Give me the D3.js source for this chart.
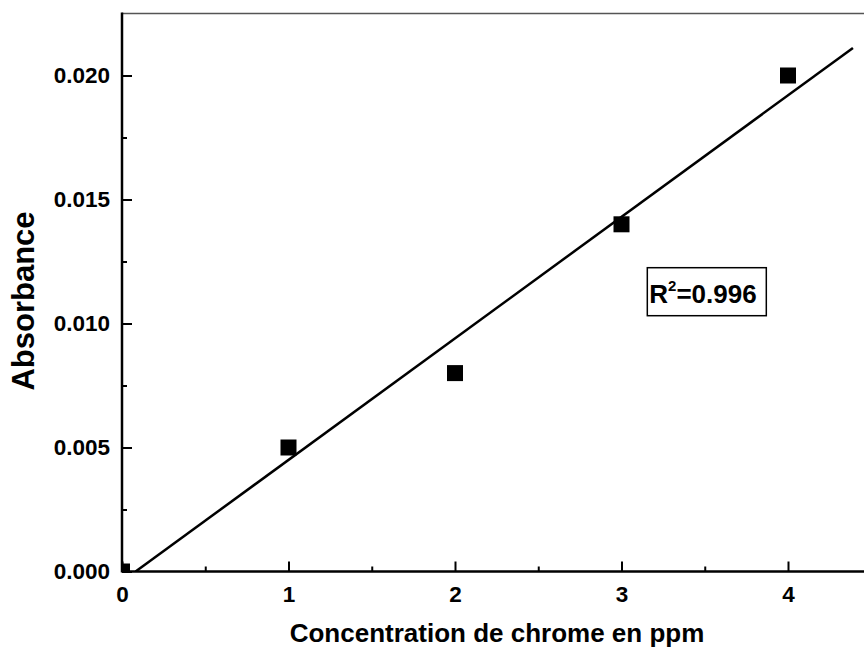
<!DOCTYPE html>
<html>
<head>
<meta charset="utf-8">
<script src="https://cdn.jsdelivr.net/npm/d3@7"></script>
<style>
  html, body { margin: 0; padding: 0; background: #fff; overflow: hidden; }
  svg text { font-family: "Liberation Sans", Arial, sans-serif; font-weight: bold; fill: #000; }
</style>
</head>
<body>
<svg id="chart" width="864" height="653"></svg>
<script>
"use strict";

// data
const concentrations = [0, 1, 2, 3, 4];
const absorbances = [0.000, 0.005, 0.008, 0.014, 0.020];
const xTicks = [0, 1, 2, 3, 4];
const xMinorTicks = [0.5, 1.5, 2.5, 3.5];
const yTicks = [0.000, 0.005, 0.010, 0.015, 0.020];
const yMinorTicks = [0.0025, 0.0075, 0.0125, 0.0175];
const fitSlope = 0.0049;
const fitIntercept = -0.0004;
const fitXEnd = 4.39;
const rSquaredText = "0.996";

let svg = d3.select('svg#chart');

let dim = { left: 122, bottom: 571.5, pxPerX: 166.5, pxPerY: 124 / 0.005 };
let xMax = 4.5, yMax = 0.0225;

let xScale = d3.scaleLinear().domain([0, xMax]).range([dim.left, dim.left + xMax * dim.pxPerX]);
let yScale = d3.scaleLinear().domain([0, yMax]).range([dim.bottom, dim.bottom - yMax * dim.pxPerY]);

let x0 = xScale(0), x1 = xScale(xMax), y0 = yScale(0), y1 = yScale(yMax);

svg.append('defs').append('clipPath').attr('id', 'plot-clip')
  .append('rect')
  .attr('x', x0).attr('y', y1)
  .attr('width', x1 - x0).attr('height', y0 - y1);

/* frame: top and right are thin grey */
svg.append('line')
  .attr('x1', x0).attr('x2', x1).attr('y1', y1).attr('y2', y1)
  .attr('stroke', '#555').attr('stroke-width', 1.5);
svg.append('line')
  .attr('x1', x1).attr('x2', x1).attr('y1', y1).attr('y2', y0)
  .attr('stroke', '#555').attr('stroke-width', 1.5);

/* axes, ticks pointing inward */
let xAxis = svg.append('g')
  .attr('transform', `translate(0, ${y0})`)
  .call(d3.axisBottom(xScale).tickValues(xTicks).tickSize(-10).tickSizeOuter(0)
    .tickPadding(15).tickFormat(d3.format('d')));
let xMinor = svg.append('g')
  .attr('transform', `translate(0, ${y0})`)
  .call(d3.axisBottom(xScale).tickValues(xMinorTicks).tickSize(-5).tickFormat(''));

let yAxis = svg.append('g')
  .attr('transform', `translate(${x0}, 0)`)
  .call(d3.axisLeft(yScale).tickValues(yTicks).tickSize(-10).tickSizeOuter(0)
    .tickPadding(12).tickFormat(d3.format('.3f')));
let yMinor = svg.append('g')
  .attr('transform', `translate(${x0}, 0)`)
  .call(d3.axisLeft(yScale).tickValues(yMinorTicks).tickSize(-5).tickFormat(''));

[xAxis, xMinor, yAxis, yMinor].forEach(g => {
  g.select('.domain').remove();
  g.selectAll('.tick line').attr('stroke', '#000').attr('stroke-width', 2);
  g.selectAll('.tick text').style('font-size', '22.5px');
});

svg.append('line')
  .attr('x1', x0).attr('x2', x1).attr('y1', y0).attr('y2', y0)
  .attr('stroke', '#000').attr('stroke-width', 2.5);
svg.append('line')
  .attr('x1', x0).attr('x2', x0).attr('y1', y1 - 1).attr('y2', y0 + 1)
  .attr('stroke', '#000').attr('stroke-width', 2.5);

/* linear fit */
let plot = svg.append('g').attr('clip-path', 'url(#plot-clip)');
let fitStart = -fitIntercept / fitSlope;
plot.append('line')
  .attr('x1', xScale(fitStart)).attr('y1', yScale(fitSlope * fitStart + fitIntercept))
  .attr('x2', xScale(fitXEnd)).attr('y2', yScale(fitSlope * fitXEnd + fitIntercept))
  .attr('stroke', '#000').attr('stroke-width', 2.5);

/* data squares */
let sq = 16;
plot.selectAll('rect.pt')
  .data(concentrations)
  .enter()
  .append('rect')
  .attr('class', 'pt')
  .attr('x', (d) => xScale(d) - sq / 2)
  .attr('y', (d, i) => yScale(absorbances[i]) - sq / 2)
  .attr('width', sq).attr('height', sq)
  .attr('fill', '#000');

/* R² annotation */
let bx = xScale(3.155), by = yScale(0.01225);
svg.append('rect')
  .attr('x', bx).attr('y', by)
  .attr('width', 119).attr('height', 48)
  .attr('fill', '#fff').attr('stroke', '#000').attr('stroke-width', 1.5);
let rt = svg.append('text')
  .attr('x', bx + 2).attr('y', by + 35)
  .style('font-size', '26px');
rt.append('tspan').text('R');
rt.append('tspan').attr('dy', -12).style('font-size', '15px').text('2');
rt.append('tspan').attr('dy', 12).text('=' + rSquaredText);

/* axis titles */
svg.append('text')
  .attr('text-anchor', 'middle')
  .attr('x', 497)
  .attr('y', 642)
  .style('font-size', '26px')
  .text('Concentration de chrome en ppm');

svg.append('text')
  .attr('text-anchor', 'middle')
  .attr('transform', `translate(34, 301) rotate(-90)`)
  .style('font-size', '31px')
  .text('Absorbance');
</script>
</body>
</html>
